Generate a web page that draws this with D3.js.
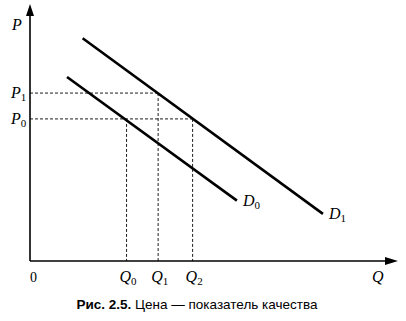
<!DOCTYPE html>
<html>
<head>
<meta charset="utf-8">
<script src="https://cdn.jsdelivr.net/npm/d3@7"></script>
<style>
body { margin: 0; background: #fff; }
</style>
</head>
<body>
<script>
// demand curves, in chart units
var demandNames = ["D0", "D1"];
var demandLines = [
  [[1.02, 7.19], [5.70, 2.36]],
  [[1.45, 8.70], [8.07, 1.84]]
];
var priceNames = ["P1", "P0"];
var priceValues = [6.56, 5.55];
var qtyNames = ["Q0", "Q1", "Q2"];
var qtyValues = [2.66, 3.53, 4.48];
var qtyPrice = [5.55, 6.56, 5.55]; // height where each dashed vertical starts
var caption = ["Рис. 2.5.", " Цена — показатель качества"];

var w = 406, h = 321;
var svg = d3.select("body").append("svg")
    .attr("width", w).attr("height", h);

var x = d3.scaleLinear().domain([0, 10]).range([30, 393]);
var y = d3.scaleLinear().domain([0, 10]).range([261, 5]);

// axes
svg.append("line")
   .attr("x1", x(0)).attr("y1", y(0)).attr("x2", x(0)).attr("y2", 12)
   .attr("stroke", "#000").attr("stroke-width", 1.6);
svg.append("path")
   .attr("d", "M" + (x(0) - 4) + ",16 L" + x(0) + ",4 L" + (x(0) + 4) + ",16 Z")
   .attr("fill", "#000");
svg.append("line")
   .attr("x1", x(0)).attr("y1", y(0)).attr("x2", 388).attr("y2", y(0))
   .attr("stroke", "#000").attr("stroke-width", 1.6);
svg.append("path")
   .attr("d", "M385," + (y(0) - 4) + " L398," + y(0) + " L385," + (y(0) + 4) + " Z")
   .attr("fill", "#000");

// dashed guides
svg.selectAll("line.ph")
   .data(priceValues)
   .enter().append("line")
   .attr("class", "ph")
   .attr("x1", x(0))
   .attr("x2", function(d, i) { return i == 0 ? x(qtyValues[1]) : x(qtyValues[2]); })
   .attr("y1", function(d) { return y(d); })
   .attr("y2", function(d) { return y(d); })
   .attr("stroke", "#000").attr("stroke-width", 0.9)
   .attr("stroke-dasharray", "3,2");

svg.selectAll("line.qv")
   .data(qtyValues)
   .enter().append("line")
   .attr("class", "qv")
   .attr("x1", function(d) { return x(d); })
   .attr("x2", function(d) { return x(d); })
   .attr("y1", function(d, i) { return y(qtyPrice[i]); })
   .attr("y2", y(0))
   .attr("stroke", "#000").attr("stroke-width", 0.9)
   .attr("stroke-dasharray", "3,2");

// demand lines
svg.selectAll("line.dm")
   .data(demandLines)
   .enter().append("line")
   .attr("class", "dm")
   .attr("x1", function(d) { return x(d[0][0]); })
   .attr("y1", function(d) { return y(d[0][1]); })
   .attr("x2", function(d) { return x(d[1][0]); })
   .attr("y2", function(d) { return y(d[1][1]); })
   .attr("stroke", "#000").attr("stroke-width", 2.6);

// label helper: italic letter with subscript
function label(name, px, py, anchor) {
  var t = svg.append("text")
     .attr("x", px).attr("y", py)
     .attr("font-family", "Liberation Serif, serif")
     .attr("font-style", "italic")
     .attr("font-size", "16px")
     .attr("text-anchor", anchor || "start");
  t.append("tspan").text(name.charAt(0));
  if (name.length > 1) {
    t.append("tspan").attr("dy", 3).attr("font-size", "11px")
     .attr("font-style", "normal").text(name.slice(1));
  }
}

label("P", 12, 30);
priceValues.forEach(function(d, i) { label(priceNames[i], 11, y(d) + 5); });
qtyValues.forEach(function(d, i) { label(qtyNames[i], x(d) - 7, 282); });
label("Q", 372, 282);
demandLines.forEach(function(d, i) {
  label(demandNames[i], x(d[1][0]) + 6, y(d[1][1]) + 5);
});

svg.append("text")
   .attr("x", 30).attr("y", 282)
   .attr("font-family", "Liberation Serif, serif")
   .attr("font-size", "14px").text("0");

var cap = svg.append("text")
   .attr("x", 197).attr("y", 309)
   .attr("text-anchor", "middle")
   .attr("font-family", "Liberation Sans, Arial, sans-serif")
   .attr("font-size", "13.5px");
cap.append("tspan").attr("font-weight", "bold").text(caption[0]);
cap.append("tspan").text(caption[1]);
</script>
</body>
</html>
